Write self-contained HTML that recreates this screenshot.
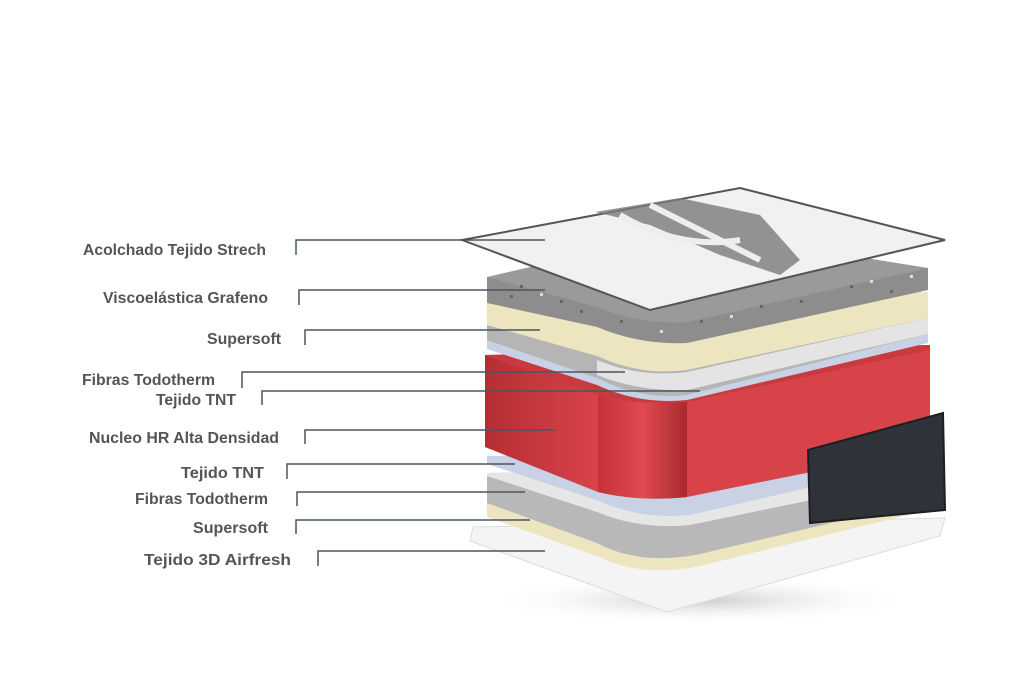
<!DOCTYPE html>
<html><head><meta charset="utf-8"><style>
html,body{margin:0;padding:0;background:#fff;}
svg{display:block;}
text{font-family:"Liberation Sans",sans-serif;font-weight:bold;font-size:16px;fill:#555;}
</style></head><body>
<svg width="1024" height="673" viewBox="0 0 1024 673">
<defs>
<linearGradient id="rg" x1="0" x2="1"><stop offset="0" stop-color="#b52e33"/><stop offset="1" stop-color="#d8434a"/></linearGradient>
<linearGradient id="curveR" x1="0" x2="1"><stop offset="0" stop-color="#c43238"/><stop offset="0.5" stop-color="#e04a50"/><stop offset="1" stop-color="#a82a2f"/></linearGradient>
<radialGradient id="sh" cx="0.5" cy="0.5" r="0.5"><stop offset="0" stop-color="#ccc"/><stop offset="1" stop-color="#fff" stop-opacity="0"/></radialGradient>
</defs>
<ellipse cx="700" cy="600" rx="220" ry="25" fill="url(#sh)"/>
<path d="M473,527 L945,518 L940,536 L667,612 L470,541 Z" fill="#f4f4f4" stroke="#ddd"/>
<path d="M487,503 L928,496 L928,510 L700,566 Q640,578 597,556 L487,517 Z" fill="#ece5c0"/>
<path d="M487,473 L928,466 L928,500 L700,554 Q640,566 597,543 L487,503 Z" fill="#b8b8b8"/>
<path d="M487,473 L928,466 L928,476 L690,525 Q640,530 597,512 L487,476 Z" fill="#e6e6e6"/>
<path d="M487,456 L928,449 L928,460 L690,515 Q640,520 597,500 L487,464 Z" fill="#c8d2e4"/>
<path d="M485,355 L930,345 L930,448 L687,497 Q640,502 598,492 L485,447 Z" fill="#d8434a"/>
<path d="M485,355 L598,395 L598,492 L485,447 Z" fill="url(#rg)"/>
<path d="M598,395 Q640,406 687,402 L687,497 Q640,502 598,492 Z" fill="url(#curveR)"/>
<path d="M485,355 L930,345 L930,350 L687,402 Q640,406 598,395 Z" fill="#c93a40"/>
<path d="M808,450 L943,413 L945,510 L810,523 Z" fill="#2f3238" stroke="#1c1e22" stroke-width="2"/>
<path d="M487,340 L928,333 L928,343 L687,400 Q640,405 597,385 L487,349 Z" fill="#c8d2e4"/>
<path d="M487,318 L928,312 L928,334 L687,395 Q640,400 597,378 L487,340 Z" fill="#b5b5b5"/>
<path d="M597,360 Q640,378 687,372 L928,318 L928,334 L687,390 Q640,392 597,375 Z" fill="#e4e4e4"/>
<path d="M487,300 L928,292 L928,318 L687,370 Q640,376 597,356 L487,325 Z" fill="#ece5c0"/>
<path d="M487,277 L928,268 L928,290 L687,343 Q640,345 597,327 L487,303 Z" fill="#8d8d8d"/>
<path d="M487,277 L690,230 L928,268 L687,322 Q640,325 597,307 Z" fill="#9a9a9a"/>
<g fill="#666">
<rect x="520" y="285" width="3" height="3"/><rect x="560" y="300" width="3" height="3"/><rect x="700" y="320" width="3" height="3"/><rect x="760" y="305" width="3" height="3"/><rect x="850" y="285" width="3" height="3"/><rect x="890" y="290" width="3" height="3"/><rect x="620" y="320" width="3" height="3"/><rect x="800" y="300" width="3" height="3"/><rect x="510" y="295" width="3" height="3"/><rect x="580" y="310" width="3" height="3"/>
</g>
<g fill="#ddd">
<rect x="540" y="293" width="3" height="3"/><rect x="730" y="315" width="3" height="3"/><rect x="870" y="280" width="3" height="3"/><rect x="910" y="275" width="3" height="3"/><rect x="660" y="330" width="3" height="3"/>
</g>
<path d="M462,240 L740,188 L945,240 L650,310 Z" fill="#f1f1f1" stroke="#555" stroke-width="2"/>
<path d="M595,212 L680,198 L760,215 L800,260 L780,275 L720,255 L650,225 Z" fill="#7a7a7a" opacity="0.8"/>
<path d="M620,215 Q680,250 740,240 M650,205 Q700,230 760,260" stroke="#eee" stroke-width="6" fill="none"/>
<g stroke="#4a5560" stroke-width="1.5" fill="none">
<path d="M296,255 V240 H545"/>
<path d="M299,305 V290 H545"/>
<path d="M305,345 V330 H540"/>
<path d="M242,388 V372 H625"/>
<path d="M262,405 V391 H700"/>
<path d="M305,444 V430 H555"/>
<path d="M287,479 V464 H515"/>
<path d="M297,506 V492 H525"/>
<path d="M296,534 V520 H530"/>
<path d="M318,566 V551 H545"/>
</g>
<g>
<text x="83" y="255" textLength="183" lengthAdjust="spacingAndGlyphs">Acolchado Tejido Strech</text>
<text x="103" y="303" textLength="165" lengthAdjust="spacingAndGlyphs">Viscoelástica Grafeno</text>
<text x="207" y="344" textLength="74" lengthAdjust="spacingAndGlyphs">Supersoft</text>
<text x="82" y="385" textLength="133" lengthAdjust="spacingAndGlyphs">Fibras Todotherm</text>
<text x="156" y="405" textLength="80" lengthAdjust="spacingAndGlyphs">Tejido TNT</text>
<text x="89" y="443" textLength="190" lengthAdjust="spacingAndGlyphs">Nucleo HR Alta Densidad</text>
<text x="181" y="478" textLength="83" lengthAdjust="spacingAndGlyphs">Tejido TNT</text>
<text x="135" y="504" textLength="133" lengthAdjust="spacingAndGlyphs">Fibras Todotherm</text>
<text x="193" y="533" textLength="75" lengthAdjust="spacingAndGlyphs">Supersoft</text>
<text x="144" y="565" textLength="147" lengthAdjust="spacingAndGlyphs">Tejido 3D Airfresh</text>
</g>
</svg>
</body></html>
